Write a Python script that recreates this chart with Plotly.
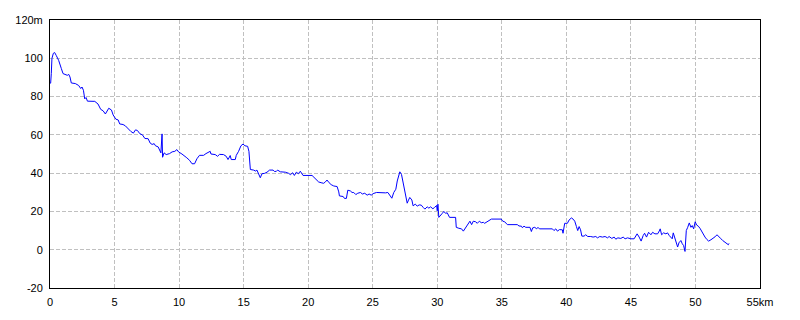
import plotly.graph_objects as go

km = [0.0, 0.05, 0.1, 0.15, 0.26, 0.36, 0.49, 0.67, 0.88, 1.01, 1.34, 1.45, 1.55, 1.65, 1.96, 2.22, 2.38, 2.48, 2.59, 2.69,
      2.79, 2.9, 3.47, 3.72, 3.93, 4.11, 4.29, 4.4, 4.55, 4.76, 4.89, 5.1, 5.28, 5.4, 5.66, 5.84, 6.05, 6.26, 6.46, 6.62,
      6.77, 6.96, 7.16, 7.35, 7.6, 7.76, 7.91, 8.07, 8.17, 8.38, 8.59, 8.64, 8.68, 8.72, 8.84, 9.0, 9.26, 9.46, 9.67, 9.83,
      9.96, 10.22, 10.4, 10.6, 10.81, 11.0, 11.2, 11.38, 11.58, 11.9, 12.08, 12.28, 12.41, 12.47, 12.8, 12.98, 13.13, 13.44, 13.65, 13.79,
      13.96, 14.04, 14.35, 14.43, 14.61, 14.79, 14.95, 15.1, 15.31, 15.41, 15.52, 15.77, 15.93, 16.03, 16.16, 16.29, 16.42, 16.63, 16.81, 17.01,
      17.28, 17.38, 17.53, 17.63, 17.84, 18.23, 18.49, 18.62, 18.8, 18.93, 19.08, 19.24, 19.39, 19.5, 19.6, 20.3, 20.48, 20.63, 20.81, 21.0,
      21.2, 21.33, 21.46, 21.62, 21.78, 21.98, 22.24, 22.37, 22.42, 22.71, 22.81, 22.96, 23.07, 23.27, 23.4, 23.53, 23.69, 23.84, 24.05, 24.2,
      24.38, 24.57, 24.72, 24.88, 25.03, 25.29, 25.6, 25.99, 26.17, 26.32, 26.48, 26.63, 26.79, 26.9, 27.02, 27.1, 27.23, 27.36, 27.46, 27.59,
      27.67, 27.77, 27.87, 28.03, 28.13, 28.29, 28.45, 28.6, 28.76, 28.91, 29.04, 29.22, 29.35, 29.48, 29.66, 29.79, 29.95, 30.0, 30.05, 30.12,
      30.26, 30.39, 30.51, 30.64, 30.77, 30.95, 31.42, 31.47, 31.67, 31.88, 32.02, 32.2, 32.37, 32.53, 32.66, 32.79, 32.97, 33.1, 33.26, 33.41,
      33.57, 33.67, 33.93, 34.19, 34.96, 35.07, 35.22, 35.43, 36.2, 36.33, 36.52, 36.59, 36.72, 36.85, 37.18, 37.29, 37.39, 37.55, 37.7, 37.8,
      37.91, 38.14, 38.92, 39.04, 39.18, 39.31, 39.46, 39.69, 39.74, 39.87, 40.08, 40.21, 40.39, 40.52, 40.65, 40.78, 40.88, 40.99, 41.1, 41.2,
      41.37, 41.5, 41.66, 41.89, 42.07, 42.28, 42.41, 42.59, 42.8, 43.0, 43.19, 43.31, 43.52, 43.7, 43.83, 43.99, 44.22, 44.4, 44.55, 44.74,
      45.0, 45.25, 45.38, 45.48, 45.64, 45.79, 45.95, 46.06, 46.21, 46.37, 46.55, 46.68, 46.86, 47.07, 47.2, 47.27, 47.38, 47.53, 47.71, 47.84,
      47.97, 48.1, 48.2, 48.28, 48.41, 48.54, 48.62, 48.72, 48.87, 48.98, 49.08, 49.19, 49.29, 49.4, 49.52, 49.65, 49.75, 49.86, 49.98, 50.09,
      50.22, 50.35, 50.48, 50.61, 50.74, 50.89, 51.02, 51.2, 51.33, 51.51, 51.67, 51.8, 51.98, 52.11, 52.29, 52.44, 52.55, 52.6]

elev = [87, 87, 92, 100, 102.6, 103, 101.4, 98.9, 94.6, 92, 91.1, 91.6, 90.2, 87.1, 86.8, 85.8, 84.2, 85, 83.3, 78.8,
        79.5, 77.6, 77.5, 76.1, 73.3, 72.6, 70.9, 72.1, 73.9, 73, 70.4, 68.2, 67.8, 65.7, 65.4, 64.7, 63, 61.8, 60.9, 62.6,
        62.3, 60.6, 60, 58.1, 58, 55.7, 55, 55.4, 54.3, 53.7, 50.6, 54, 60.5, 48.3, 50.6, 49.7, 50.2, 51.1, 51.4, 52.3,
        51.1, 50, 48.8, 48, 46.7, 44.9, 44.9, 47.5, 49.3, 49.3, 50.2, 50.9, 51.4, 50, 49.7, 48.8, 49.8, 49.7, 48.8, 47.1,
        49.2, 47.1, 47.1, 49.3, 51.4, 54.3, 55.2, 54.3, 54, 51.4, 41.9, 41.6, 41.1, 41.6, 39.9, 37.6, 39.7, 39.9, 40.5, 41.6,
        41.6, 40.9, 40.9, 41.6, 40.7, 40.5, 39.9, 39.2, 40.2, 38.8, 40.5, 39.7, 41, 39.9, 38.8, 38.8, 37.6, 36.4, 35.4, 35,
        34.7, 35.4, 36.4, 35, 34, 33.3, 33, 30.2, 28.1, 27.8, 26.8, 26.8, 31.1, 30.7, 29.9, 29.9, 28.8, 29.5, 29.9, 29.1,
        29.5, 28.5, 29.1, 28.5, 29.3, 29.9, 29.7, 29.7, 29.9, 28.5, 26.9, 29.9, 31.6, 35.9, 39.9, 40.7, 39.3, 35, 29.9, 25.5,
        24.3, 25.9, 27.3, 26, 22.9, 23.8, 22.8, 23.4, 23.3, 22.1, 21.2, 22.4, 21.7, 22.4, 21.4, 22.1, 23.1, 20.3, 23.8, 16.9,
        18.3, 19, 20, 19, 19.3, 16.9, 16.9, 11.7, 11.2, 10.9, 9.7, 11.4, 13.5, 14.9, 13.1, 14.9, 14.6, 13.8, 14.9, 14.1,
        14.3, 13.8, 14.9, 16, 16, 14.9, 14.6, 13.1, 13.1, 12.4, 12.3, 11.5, 12.3, 11.7, 11.7, 9.5, 11.4, 11.7, 10.9, 11.7,
        10.9, 10.9, 10.9, 10, 10.9, 9.7, 10.5, 10.4, 8.6, 13.8, 13.8, 15.5, 16.6, 16, 14.9, 12.1, 10, 12.1, 10.4, 7.1,
        7.1, 7.8, 6.9, 6.9, 6.6, 6.9, 6.2, 6.9, 6.6, 6.9, 6.2, 6.9, 5.9, 6.6, 5.5, 6.2, 5.9, 6.6, 5.7, 6.2,
        5.7, 5.7, 6.9, 8.3, 6.6, 4.5, 7.4, 8.6, 6.6, 9.1, 7.8, 9.1, 8.3, 8.3, 9.8, 10.9, 7.8, 8.8, 8.3, 8.8,
        7.4, 6.6, 5.7, 8.8, 6.0, 3.6, 1.4, 3.6, 4.8, 3.1, 2.2, -0.9, 10, 11.7, 14, 11.7, 12.6, 10.9, 14.6, 12.9,
        12.3, 11.2, 9.5, 8.3, 6.6, 5.3, 4.5, 5.2, 5.7, 6.7, 7.8, 7.1, 5.7, 4.8, 4.0, 3.5, 2.6, 3.3]

x_ticks = [0, 5, 10, 15, 20, 25, 30, 35, 40, 45, 50, 55]
x_labels = ["0", "5", "10", "15", "20", "25", "30", "35", "40", "45", "50", "55km"]
y_ticks = [-20, 0, 20, 40, 60, 80, 100, 120]
y_labels = ["-20", "0", "20", "40", "60", "80", "100", "120m"]

fig = go.Figure()
fig.add_trace(go.Scatter(x=km, y=elev, mode="lines",
                         line=dict(color="#0000ff", width=1), hoverinfo="skip"))

axis_common = dict(showline=True, linecolor="black", linewidth=1, mirror=True,
                   showgrid=True, gridcolor="#c0c0c0", gridwidth=1, griddash="4px,2px",
                   zeroline=False, ticks="", tickfont=dict(family="Liberation Sans, Arial", size=11, color="black"))

fig.update_layout(
    width=800, height=320,
    margin=dict(l=50, r=40, t=20, b=30),
    paper_bgcolor="white", plot_bgcolor="white",
    showlegend=False,
    xaxis=dict(range=[0, 55], tickvals=x_ticks, ticktext=x_labels, ticklabelstandoff=4, **axis_common),
    yaxis=dict(range=[-20, 120], tickvals=y_ticks, ticktext=y_labels, ticklabelstandoff=4, **axis_common),
)

fig.write_html("out.html")
